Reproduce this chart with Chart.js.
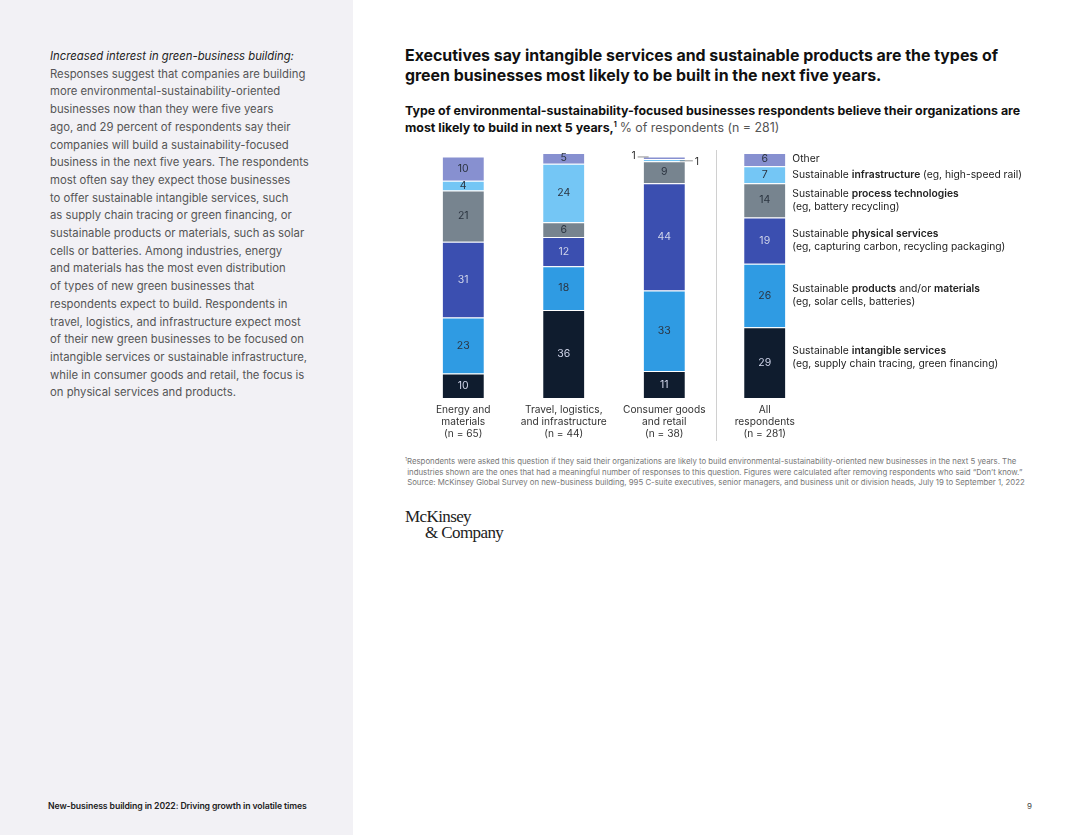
<!DOCTYPE html>
<html>
<head>
<meta charset="utf-8">
<script src="https://cdn.jsdelivr.net/npm/chart.js@4.4.0/dist/chart.umd.min.js"></script>
<style>
  html, body { margin: 0; padding: 0; }
  body { width: 1080px; height: 835px; position: relative; background: #fff; font-family: Inter, "Noto Sans", sans-serif; overflow: hidden; }
  .side { position: absolute; left: 0; top: 0; width: 353px; height: 835px; background: #f2f1f5; }
  .intro { position: absolute; left: 50px; top: 48px; font-size: 11.3px; line-height: 17.7px; color: #555; }
  .intro i { color: #222; }
  .footer { position: absolute; left: 48px; top: 801px; font-size: 8.7px; font-weight: 600; color: #222; letter-spacing: -0.1px; }
  .page { position: absolute; left: 1027px; top: 801px; font-size: 8px; color: #444; }
  .title { position: absolute; left: 405px; top: 46px; font-size: 15.9px; font-weight: 700; line-height: 20px; color: #111; }
  .sub { position: absolute; left: 405px; top: 102px; font-size: 12.4px; font-weight: 700; line-height: 17px; color: #111; }
  .sub span { font-weight: 400; color: #555; }
  .sub sup { font-size: 7px; line-height: 0; vertical-align: 5px; }
  .note { position: absolute; left: 405px; top: 456px; font-size: 7.8px; line-height: 10.5px; color: #777; }
  .note sup { font-size: 5px; line-height: 0; vertical-align: 3px; }
  .logo { position: absolute; left: 405px; top: 509px; font-family: "Liberation Serif", "DejaVu Serif", serif; font-size: 17px; line-height: 16px; color: #222; letter-spacing: -0.6px; }
  .logo span { padding-left: 20px; }
  #wrap { position: absolute; left: 405px; top: 145px; width: 650px; height: 302px; }
</style>
</head>
<body>
<div class="side"></div>
<div class="intro"><i>Increased interest in green-business building:</i><br>Responses suggest that companies are building<br>more environmental-sustainability-oriented<br>businesses now than they were five years<br>ago, and 29 percent of respondents say their<br>companies will build a sustainability-focused<br>business in the next five years. The respondents<br>most often say they expect those businesses<br>to offer sustainable intangible services, such<br>as supply chain tracing or green financing, or<br>sustainable products or materials, such as solar<br>cells or batteries. Among industries, energy<br>and materials has the most even distribution<br>of types of new green businesses that<br>respondents expect to build. Respondents in<br>travel, logistics, and infrastructure expect most<br>of their new green businesses to be focused on<br>intangible services or sustainable infrastructure,<br>while in consumer goods and retail, the focus is<br>on physical services and products.</div>
<div class="footer">New-business building in 2022: Driving growth in volatile times</div>
<div class="page">9</div>

<div class="title">Executives say intangible services and sustainable products are the types of<br>green businesses most likely to be built in the next five years.</div>
<div class="sub">Type of environmental-sustainability-focused businesses respondents believe their organizations are<br>most likely to build in next 5 years,<sup>1</sup> <span>% of respondents (n = 281)</span></div>

<div id="wrap"><canvas id="chart"></canvas></div>

<div class="note"><sup>1</sup>Respondents were asked this question if they said their organizations are likely to build environmental-sustainability-oriented new businesses in the next 5 years. The<br>&nbsp;industries shown are the ones that had a meaningful number of responses to this question. Figures were calculated after removing respondents who said “Don’t know.”<br>&nbsp;Source: McKinsey Global Survey on new-business building, 995 C-suite executives, senior managers, and business unit or division heads, July 19 to September 1, 2022</div>
<div class="logo">McKinsey<br><span>&amp; Company</span></div>

<script>
// categories (x axis)
const categories = [
  ['Energy and', 'materials', '(n = 65)'],
  ['Travel, logistics,', 'and infrastructure', '(n = 44)'],
  ['Consumer goods', 'and retail', '(n = 38)'],
  ['All', 'respondents', '(n = 281)']
];

// series, bottom to top, % of respondents
const intangible     = [10, 36, 11, 29];
const products       = [23, 18, 33, 26];
const physical       = [31, 12, 44, 19];
const processTech    = [21, 6, 9, 14];
const infrastructure = [4, 24, 1, 7];
const other          = [10, 5, 1, 6];

const seriesColors = ['#0f1c2e', '#2f9be3', '#3b4fb0', '#77848f', '#74c6f5', '#8790d0'];
const lightText = [true, false, true, false, false, false];

// legend text runs next to the "All respondents" bar, [text, bold]
const legendLines = [
  [[['Sustainable ', false], ['intangible services', true]], [['(eg, supply chain tracing, green financing)', false]]],
  [[['Sustainable ', false], ['products', true], [' and/or ', false], ['materials', true]], [['(eg, solar cells, batteries)', false]]],
  [[['Sustainable ', false], ['physical services', true]], [['(eg, capturing carbon, recycling packaging)', false]]],
  [[['Sustainable ', false], ['process technologies', true]], [['(eg, battery recycling)', false]]],
  [[['Sustainable ', false], ['infrastructure', true], [' (eg, high-speed rail)', false]]],
  [[['Other', false]]]
];

const FONT = 'Inter, "Noto Sans", sans-serif';

const labelsPlugin = {
  id: 'segLabels',
  afterDatasetsDraw(chart) {
    const ctx = chart.ctx;
    ctx.save();
    ctx.font = '10.5px ' + FONT;
    ctx.textAlign = 'center';
    ctx.textBaseline = 'middle';
    chart.data.datasets.forEach((ds, di) => {
      const meta = chart.getDatasetMeta(di);
      meta.data.forEach((bar, i) => {
        const v = ds.data[i];
        const cy = (bar.y + bar.base) / 2;
        if (v <= 2) {
          // small values get leader lines
          ctx.strokeStyle = '#777';
          ctx.lineWidth = 0.8;
          ctx.fillStyle = '#333';
          const left = di === 5;
          const y = left ? bar.y + 0.5 : bar.base - 0.5;
          const x0 = left ? bar.x - bar.width / 2 : bar.x + bar.width / 2;
          const x1 = left ? x0 - 6 : x0 + 8;
          ctx.beginPath();
          ctx.moveTo(x0 + (left ? 5 : -5), y);
          ctx.lineTo(x1, y);
          ctx.stroke();
          ctx.fillText(String(v), left ? x1 - 4 : x1 + 4, left ? y - 1 : y + 1);
          return;
        }
        ctx.fillStyle = lightText[di] ? '#d0d5ea' : '#2b3440';
        ctx.fillText(String(v), bar.x, cy);
      });
    });

    // separator before "All respondents"
    const xs = chart.scales.x;
    const sx = (xs.getPixelForValue(2) + xs.getPixelForValue(3)) / 2 + 2;
    ctx.strokeStyle = '#d0d0d0';
    ctx.lineWidth = 1;
    ctx.beginPath();
    ctx.moveTo(sx, chart.chartArea.top - 4);
    ctx.lineTo(sx, chart.height - 6);
    ctx.stroke();

    // legend beside last bar
    ctx.textAlign = 'left';
    ctx.fillStyle = '#222';
    chart.data.datasets.forEach((ds, di) => {
      const bar = chart.getDatasetMeta(di).data[3];
      const lx = bar.x + bar.width / 2 + 7;
      const cy = (bar.y + bar.base) / 2;
      const lines = legendLines[di];
      const lh = 13.5;
      let y = cy - (lines.length - 1) * lh / 2;
      if (di === 0) y -= 5;
      lines.forEach(runs => {
        let x = lx;
        runs.forEach(([txt, bold]) => {
          ctx.font = (bold ? '600 ' : '400 ') + '10.3px ' + FONT;
          ctx.fillText(txt, x, y);
          x += ctx.measureText(txt).width;
        });
        y += lh;
      });
    });
    ctx.restore();
  }
};

const seriesData = [intangible, products, physical, processTech, infrastructure, other];
const seriesNames = ['Sustainable intangible services', 'Sustainable products and/or materials', 'Sustainable physical services',
  'Sustainable process technologies', 'Sustainable infrastructure', 'Other'];

new Chart(document.getElementById('chart'), {
  type: 'bar',
  data: {
    labels: categories,
    datasets: seriesData.map((d, i) => ({
      label: seriesNames[i],
      data: d,
      backgroundColor: seriesColors[i],
      borderColor: 'rgba(255,255,255,0.5)',
      borderWidth: { top: 1, bottom: 0, left: 0, right: 0 },
      borderSkipped: false,
      barPercentage: 0.41,
      categoryPercentage: 1
    }))
  },
  options: {
    responsive: true,
    maintainAspectRatio: false,
    animation: false,
    layout: { padding: { left: 8, right: 240, top: 9, bottom: 1 } },
    plugins: {
      legend: { display: false },
      tooltip: { enabled: false }
    },
    scales: {
      x: {
        stacked: true,
        grid: { display: false, drawTicks: false },
        border: { display: false },
        ticks: { color: '#333', font: { size: 10.2, family: FONT, lineHeight: 1.18 }, padding: 6, maxRotation: 0 }
      },
      y: {
        stacked: true,
        display: false,
        min: 0,
        max: 100
      }
    }
  },
  plugins: [labelsPlugin]
});
</script>
</body>
</html>
